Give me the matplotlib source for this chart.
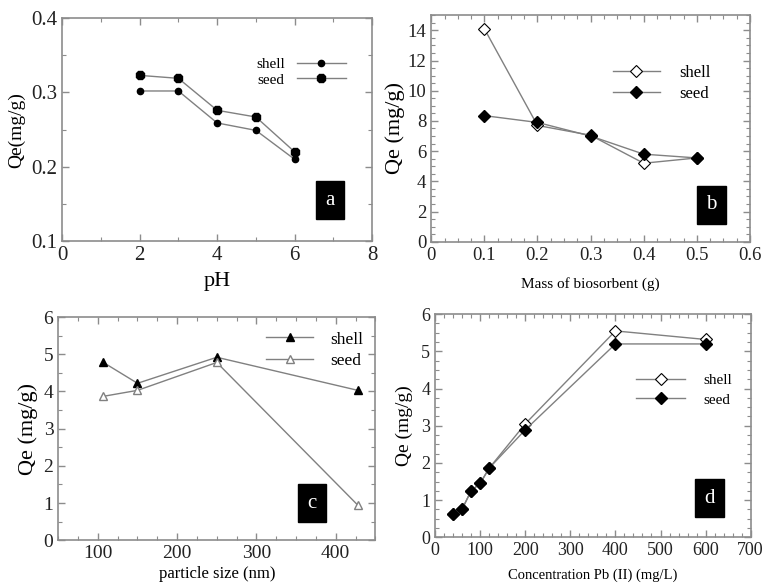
"""Four-panel Qe plot (pH, biosorbent mass, particle size, Pb concentration)."""

import matplotlib

matplotlib.use("Agg")
import matplotlib.pyplot as plt
from matplotlib.ticker import AutoMinorLocator, FuncFormatter, MultipleLocator

plt.rcParams["font.family"] = ["Liberation Serif", "DejaVu Serif"]

# (a) effect of pH
ph = [2, 3, 4, 5, 6]
ph_shell = [0.302, 0.302, 0.259, 0.249, 0.210]
ph_seed = [0.323, 0.319, 0.276, 0.267, 0.220]

# (b) mass of biosorbent
mass = [0.1, 0.2, 0.3, 0.4, 0.5]
mass_shell = [14.1, 7.7, 7.05, 5.2, 5.55]
mass_seed = [8.35, 7.9, 7.0, 5.8, 5.55]

# (c) particle size
size_nm = [107, 150, 250, 428]
size_shell = [4.78, 4.22, 4.92, 4.03]
size_seed = [3.87, 4.03, 4.78, 0.94]

# (d) initial Pb(II) concentration
conc = [40, 60, 80, 100, 120, 200, 400, 600]
conc_shell = [0.63, 0.76, 1.25, 1.45, 1.86, 3.05, 5.55, 5.32]
conc_seed = [0.63, 0.76, 1.25, 1.45, 1.86, 2.89, 5.2, 5.2]

LINE = "#808080"
FRAME = "#8c8c8c"
# plain "0" at the origin, like the original plots
zero_fmt = FuncFormatter(lambda v, _: "0" if abs(v) < 1e-9 else f"{v:g}")


def style_axes(ax, tick_size):
    for sp in ax.spines.values():
        sp.set_color(FRAME)
        sp.set_linewidth(1.2)
    ax.tick_params(which="both", direction="in", top=True, right=True, color=FRAME,
                   labelsize=tick_size, labelcolor="#222222")
    ax.tick_params(which="major", length=5, width=1)
    ax.tick_params(which="minor", length=3, width=0.8)


def panel_tag(ax, letter, x, y):
    ax.text(x, y, letter, transform=ax.transAxes, ha="center", va="center",
            color="white", fontsize=15,
            bbox=dict(boxstyle="square,pad=0.45", fc="black", ec="black"))


def main():
    fig = plt.figure(figsize=(7.66, 5.84), dpi=100)

    # ---- a ----
    ax = fig.add_axes([0.081, 0.587, 0.405, 0.382])
    ax.plot(ph, ph_shell, color=LINE, lw=1, marker="o", ms=4.5, mfc="black", mec="black",
            label="shell")
    ax.plot(ph, ph_seed, color=LINE, lw=1, marker="8", ms=7, mfc="black", mec="black",
            label="seed")
    ax.set_xlim(0, 8)
    ax.set_ylim(0.1, 0.4)
    ax.xaxis.set_major_locator(MultipleLocator(2))
    ax.xaxis.set_minor_locator(MultipleLocator(1))
    ax.yaxis.set_major_locator(MultipleLocator(0.1))
    ax.yaxis.set_minor_locator(MultipleLocator(0.05))
    style_axes(ax, 15)
    ax.set_xlabel("pH", fontsize=16, labelpad=5)
    ax.set_ylabel("Qe(mg/g)", fontsize=14, labelpad=4)
    ax.legend(loc="center", bbox_to_anchor=(0.77, 0.758), frameon=False, markerfirst=False,
              fontsize=11, handlelength=3.2, labelspacing=0.1, handletextpad=0.8)
    panel_tag(ax, "a", 0.865, 0.184)

    # ---- b ----
    ax = fig.add_axes([0.563, 0.586, 0.416, 0.388])
    ax.plot(mass, mass_shell, color=LINE, lw=1, marker="D", ms=6.5, mfc="white", mec="black",
            mew=0.8, label="shell")
    ax.plot(mass, mass_seed, color=LINE, lw=1, marker="D", ms=6.5, mfc="black", mec="black",
            label="seed")
    ax.set_xlim(0, 0.6)
    ax.set_ylim(0, 15)
    ax.xaxis.set_major_locator(MultipleLocator(0.1))
    ax.xaxis.set_minor_locator(AutoMinorLocator(4))
    ax.xaxis.set_major_formatter(zero_fmt)
    ax.yaxis.set_major_locator(MultipleLocator(2))
    ax.yaxis.set_minor_locator(AutoMinorLocator(4))
    style_axes(ax, 13.5)
    ax.set_xlabel("Mass of biosorbent (g)", fontsize=11, labelpad=10)
    ax.set_ylabel("Qe (mg/g)", fontsize=16, labelpad=2)
    ax.legend(loc="center", bbox_to_anchor=(0.724, 0.70), frameon=False,
              fontsize=12, handlelength=2.8, labelspacing=0.3, handletextpad=1.2)
    panel_tag(ax, "b", 0.88, 0.163)

    # ---- c ----
    ax = fig.add_axes([0.076, 0.075, 0.414, 0.382])
    ax.plot(size_nm, size_shell, color=LINE, lw=1, marker="^", ms=6, mfc="black",
            mec="black", label="shell")
    ax.plot(size_nm, size_seed, color=LINE, lw=1, marker="^", ms=6, mfc="white",
            mec=LINE, label="seed")
    ax.set_xlim(50, 450)
    ax.set_ylim(0, 6)
    ax.xaxis.set_major_locator(MultipleLocator(100))
    ax.xaxis.set_minor_locator(AutoMinorLocator(4))
    ax.yaxis.set_major_locator(MultipleLocator(1))
    ax.yaxis.set_minor_locator(AutoMinorLocator(2))
    style_axes(ax, 14)
    ax.set_xlabel("particle size (nm)", fontsize=12, labelpad=3)
    ax.set_ylabel("Qe (mg/g)", fontsize=16, labelpad=4)
    ax.legend(loc="center", bbox_to_anchor=(0.81, 0.852), frameon=False,
              fontsize=12.5, handlelength=2.7, labelspacing=0.3, handletextpad=1.0)
    panel_tag(ax, "c", 0.80, 0.166)

    # ---- d ----
    ax = fig.add_axes([0.568, 0.080, 0.412, 0.382])
    ax.plot(conc, conc_shell, color=LINE, lw=1, marker="D", ms=6.5, mfc="white",
            mec="black", mew=0.8, label="shell")
    ax.plot(conc, conc_seed, color=LINE, lw=1, marker="D", ms=6.5, mfc="black",
            mec="black", label="seed")
    ax.set_xlim(0, 700)
    ax.set_ylim(0, 6)
    ax.xaxis.set_major_locator(MultipleLocator(100))
    ax.xaxis.set_minor_locator(AutoMinorLocator(5))
    ax.yaxis.set_major_locator(MultipleLocator(1))
    ax.yaxis.set_minor_locator(AutoMinorLocator(4))
    style_axes(ax, 13)
    ax.set_xlabel("Concentration Pb (II) (mg/L)", fontsize=10.5, labelpad=7)
    ax.set_ylabel("Qe (mg/g)", fontsize=14, labelpad=6)
    ax.legend(loc="center", bbox_to_anchor=(0.79, 0.66), frameon=False,
              fontsize=11, handlelength=3.2, labelspacing=0.4, handletextpad=1.2)
    panel_tag(ax, "d", 0.87, 0.175)

    fig.savefig("out.png", dpi=100)


if __name__ == "__main__":
    main()
